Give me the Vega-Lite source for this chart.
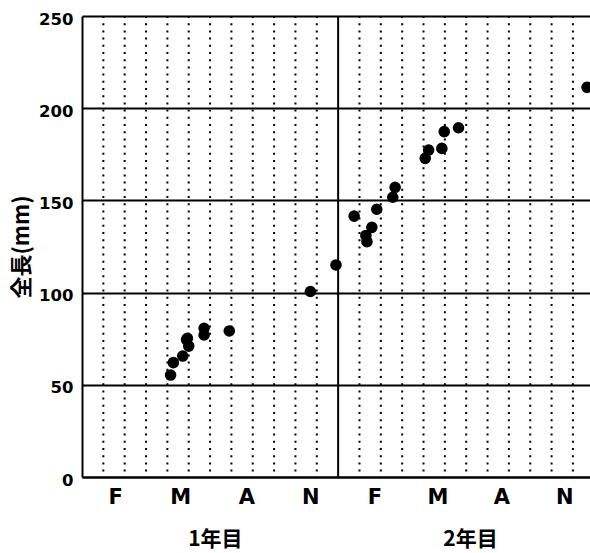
{
  "$schema": "https://vega.github.io/schema/vega-lite/v6.json",
  "width": 508,
  "height": 461,
  "autosize": {"type": "none"},
  "padding": {"left": 82, "top": 16, "right": 0, "bottom": 76},
  "config": {"view": {"stroke": null}, "font": "DejaVu Sans"},
  "datasets": {
    "grid": [{"x":1},{"x":2},{"x":3},{"x":4},{"x":5},{"x":6},{"x":7},{"x":8},{"x":9},{"x":10},{"x":11},{"x":13},{"x":14},{"x":15},{"x":16},{"x":17},{"x":18},{"x":19},{"x":20},{"x":21},{"x":22},{"x":23}],
    "fish": [
      {"t": 4.15, "len": 55.3},
      {"t": 4.28, "len": 62},
      {"t": 4.72, "len": 65.6},
      {"t": 4.94, "len": 75.2},
      {"t": 4.9, "len": 74.5},
      {"t": 5.0, "len": 71},
      {"t": 5.72, "len": 80.6},
      {"t": 5.72, "len": 77},
      {"t": 6.9, "len": 79.2},
      {"t": 10.7, "len": 100.6},
      {"t": 11.9, "len": 115},
      {"t": 12.75, "len": 141.5},
      {"t": 13.3, "len": 131},
      {"t": 13.35, "len": 127.6},
      {"t": 13.58, "len": 135.4},
      {"t": 13.81, "len": 145.2},
      {"t": 14.56, "len": 151.7},
      {"t": 14.67, "len": 157.1},
      {"t": 16.08, "len": 172.8},
      {"t": 16.24, "len": 177.3},
      {"t": 16.86, "len": 178.2},
      {"t": 16.97, "len": 187.3},
      {"t": 17.64, "len": 189.4},
      {"t": 23.66, "len": 211.3}
    ],
    "years": [{"x": 6.25, "label": "1年目"}, {"x": 18.2, "label": "2年目"}]
  },
  "layer": [
    {
      "data": {"name": "grid"},
      "mark": {"type": "rule", "stroke": "black", "strokeWidth": 2, "strokeDash": [2, 5.2]},
      "encoding": {
        "x": {
          "field": "x", "type": "quantitative",
          "scale": {"domain": [0, 23.8], "nice": false, "zero": false},
          "axis": {
            "values": [1.55, 4.6, 7.7, 10.7, 13.7, 16.65, 19.65, 22.6],
            "labelExpr": "datum.value < 3 ? 'F' : datum.value < 6 ? 'M' : datum.value < 9 ? 'A' : datum.value < 12 ? 'N' : datum.value < 15 ? 'F' : datum.value < 18 ? 'M' : datum.value < 21 ? 'A' : 'N'",
            "grid": false, "ticks": false, "tickSize": 0,
            "domainColor": "black", "domainWidth": 2,
            "labelColor": "black", "labelFont": "DejaVu Sans", "labelFontSize": 21, "labelFontWeight": "bold",
            "labelPadding": 9, "title": null
          }
        }
      }
    },
    {
      "data": {"values": [{"x": 12}]},
      "mark": {"type": "rule", "stroke": "black", "strokeWidth": 2},
      "encoding": {"x": {"field": "x", "type": "quantitative"}}
    },
    {
      "data": {"name": "fish"},
      "mark": {"type": "circle", "size": 135, "color": "black", "opacity": 1, "clip": true},
      "encoding": {
        "x": {"field": "t", "type": "quantitative"},
        "y": {
          "field": "len", "type": "quantitative",
          "scale": {"domain": [0, 250], "nice": false},
          "axis": {
            "values": [0, 50, 100, 150, 200, 250],
            "grid": true, "gridColor": "black", "gridWidth": 2, "gridOpacity": 1,
            "ticks": false, "tickSize": 0,
            "domainColor": "black", "domainWidth": 2,
            "labelColor": "black", "labelFont": "DejaVu Sans", "labelFontSize": 16.5, "labelFontWeight": "bold",
            "labelPadding": 9, "labelOffset": 3,
            "title": "全長(mm)", "titleFont": "Noto Sans CJK JP", "titleFontSize": 22,
            "titleFontWeight": "bold", "titleColor": "black", "titlePadding": 5
          }
        }
      }
    },
    {
      "data": {"name": "years"},
      "mark": {"type": "text", "font": "Noto Sans CJK JP", "fontSize": 21, "fontWeight": "bold", "color": "black", "baseline": "middle", "align": "center"},
      "encoding": {
        "x": {"field": "x", "type": "quantitative"},
        "y": {"datum": -34, "type": "quantitative"},
        "text": {"field": "label"}
      }
    }
  ]
}
